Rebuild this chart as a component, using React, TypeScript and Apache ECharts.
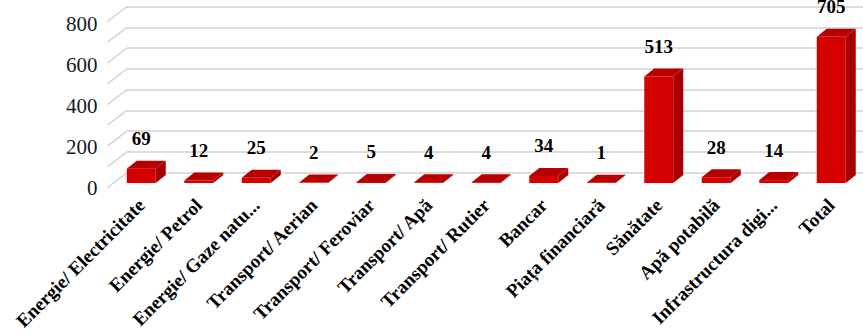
import React, { useEffect, useRef } from "react";
import * as echarts from "echarts";

const categories = [
  "Energie/ Electricitate",
  "Energie/ Petrol",
  "Energie/ Gaze natu...",
  "Transport/ Aerian",
  "Transport/ Feroviar",
  "Transport/ Apă",
  "Transport/ Rutier",
  "Bancar",
  "Piața financiară",
  "Sănătate",
  "Apă potabilă",
  "Infrastructura digi...",
  "Total",
];
const values = [69, 12, 25, 2, 5, 4, 4, 34, 1, 513, 28, 14, 705];
const gridTicks = [0, 100, 200, 300, 400, 500, 600, 700, 800];

const SERIF = "Liberation Serif";

export default function App() {
  const ref = useRef<HTMLDivElement>(null);
  useEffect(() => {
    document.body.style.margin = "0";
    const chart = echarts.init(ref.current!, null, { renderer: "svg" });
    const DX = 10;
    const DY = 8;
    chart.setOption({
      animation: false,
      grid: [
        { left: 127, top: 6.5, width: 747.5, height: 166 },
        { left: 112.5, top: 17, width: 747.5, height: 166 },
        { left: 107.5, top: 24, width: 747.5, height: 164 },
      ],
      xAxis: [
        { gridIndex: 0, type: "category", data: categories, show: false },
        {
          gridIndex: 1,
          type: "category",
          data: categories,
          axisLine: { show: false },
          axisTick: { show: false },
          axisLabel: {
            interval: 0,
            rotate: 45,
            margin: 19,
            fontFamily: SERIF,
            fontWeight: "bold",
            fontSize: 19,
            color: "#000",
          },
        },
        { gridIndex: 2, type: "category", data: categories, show: false },
      ],
      yAxis: [
        {
          gridIndex: 0,
          type: "value",
          min: 0,
          max: 800,
          interval: 100,
          axisLabel: { show: false },
          axisLine: { show: false },
          axisTick: { show: false },
          splitLine: { show: true, lineStyle: { color: "#d0d0d0", width: 1.5 } },
        },
        { gridIndex: 1, type: "value", min: 0, max: 800, show: false },
        {
          gridIndex: 2,
          type: "value",
          min: 0,
          max: 800,
          interval: 200,
          axisLine: { show: false },
          axisTick: { show: false },
          splitLine: { show: false },
          axisLabel: {
            margin: 10,
            fontFamily: SERIF,
            fontSize: 21,
            color: "#1a1a1a",
          },
        },
      ],
      series: [
        {
          type: "custom",
          xAxisIndex: 0,
          yAxisIndex: 0,
          z: 1,
          data: gridTicks.map((v) => [0, v]),
          renderItem: (params: any, api: any) => {
            const p = api.coord([0, api.value(1)]);
            const x0 = params.coordSys.x;
            return {
              type: "line",
              shape: { x1: x0, y1: p[1], x2: x0 - 19.5, y2: p[1] + 15 },
              style: { stroke: "#d0d0d0", lineWidth: 1.5 },
            };
          },
        },
        {
          type: "custom",
          xAxisIndex: 1,
          yAxisIndex: 1,
          z: 5,
          data: values.map((v, i) => [i, v]),
          renderItem: (params: any, api: any) => {
            const i = api.value(0);
            const v = api.value(1);
            const base = api.coord([i, 0]);
            const top = api.coord([i, v]);
            const w = 29;
            const l = base[0] - w / 2;
            const r = l + w;
            const t = top[1];
            const b = base[1];
            return {
              type: "group",
              children: [
                {
                  type: "polygon",
                  shape: { points: [[r, t], [r + DX, t - DY], [r + DX, b - DY], [r, b]] },
                  style: { fill: "#a80000" },
                },
                {
                  type: "polygon",
                  shape: { points: [[l, t], [r, t], [r + DX, t - DY], [l + DX, t - DY]] },
                  style: { fill: "#b80000" },
                },
                {
                  type: "rect",
                  shape: { x: l, y: t, width: w, height: Math.max(b - t, 0) },
                  style: { fill: "#d40000" },
                },
                {
                  type: "text",
                  x: l + w / 2,
                  y: t - 30,
                  style: {
                    text: String(v),
                    fontFamily: SERIF,
                    fontWeight: "bold",
                    fontSize: 19,
                    fill: "#000",
                    align: "center",
                    verticalAlign: "middle",
                  },
                },
              ],
            };
          },
        },
      ],
    });
    return () => chart.dispose();
  }, []);
  return <div ref={ref} style={{ width: 863, height: 333 }} />;
}
